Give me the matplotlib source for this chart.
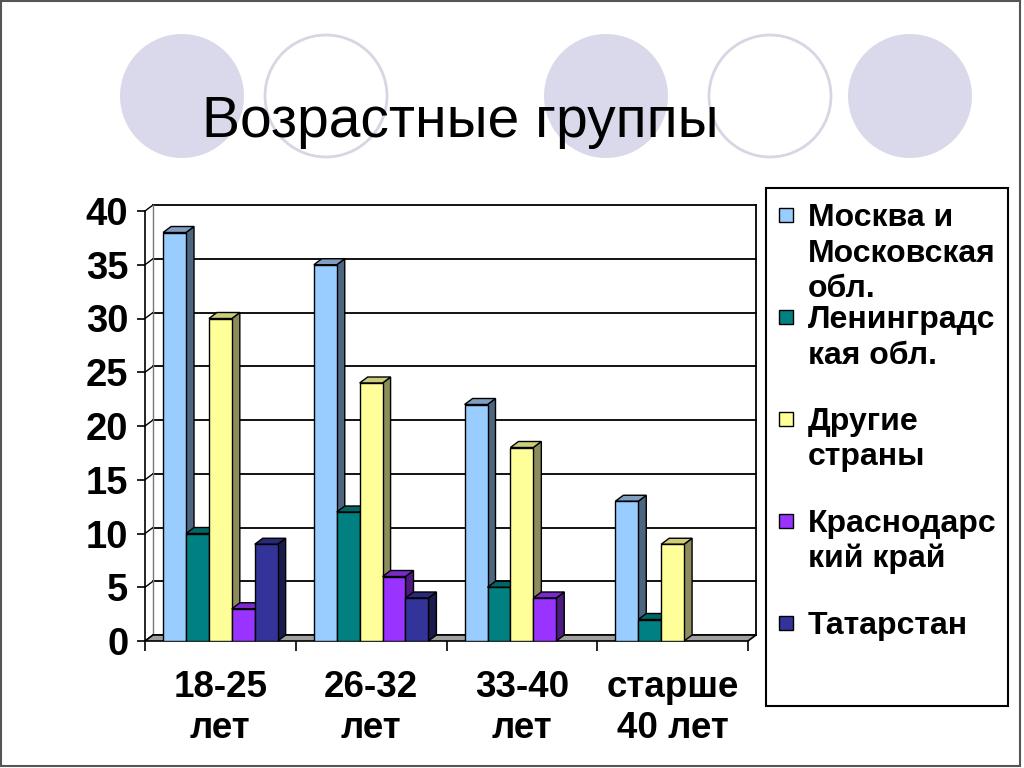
import matplotlib
matplotlib.use("Agg")
import matplotlib.pyplot as plt
from matplotlib.patches import Ellipse, Rectangle

plt.rcParams['font.family'] = ['Liberation Sans', 'DejaVu Sans']

# %% data
title = "Возрастные группы"
categories = ["18-25\nлет", "26-32\nлет", "33-40\nлет", "старше\n40 лет"]
series = ["Москва и\nМосковская\nобл.", "Ленинградс\nкая обл.", "Другие\nстраны",
          "Краснодарс\nкий край", "Татарстан"]
moscow = [38, 35, 22, 13]
leningrad = [10, 12, 5, 2]
other = [30, 24, 18, 9]
krasnodar = [3, 6, 4, 0]
tatarstan = [9, 4, 0, 0]
values = [moscow, leningrad, other, krasnodar, tatarstan]
yticks = list(range(0, 41, 5))

# front / top / side colours of the pseudo-3d bars
front_c = ['#99CCFF', '#008080', '#FFFF99', '#9933FF', '#333399']
top_c = ['#7F9EC0', '#006666', '#CCCC7A', '#7A29CC', '#29297A']
side_c = ['#4D6680', '#004D4D', '#8C8C5C', '#4D1A80', '#1A1A4D']

W, H = 1024, 768
fig = plt.figure(figsize=(10.24, 7.68), dpi=100)
fig.patch.set_facecolor('white')

def fx(px):
    return px / W

def fy(py):
    return 1 - py / H

# decorative circles behind the title
for cx, filled in [(182, True), (326, False), (606, True), (770, False), (910, True)]:
    if filled:
        e = Ellipse((fx(cx), fy(96)), 124 / W, 124 / H, transform=fig.transFigure,
                    facecolor='#D9D9EB', edgecolor='none', zorder=0)
    else:
        e = Ellipse((fx(cx), fy(96)), 122 / W, 122 / H, transform=fig.transFigure,
                    facecolor='white', edgecolor='#D6D6E4', lw=2, zorder=0)
    fig.add_artist(e)

fig.text(fx(460), fy(137), title, ha='center', va='baseline', fontsize=41, zorder=2)

# slide border
fig.add_artist(Rectangle((fx(1), fy(766)), fx(1019), 765 / H, transform=fig.transFigure,
                         facecolor='none', edgecolor='#555555', lw=1.5))

# %% chart (front plane in data coords)
ax = fig.add_axes([fx(145), fy(641), fx(748 - 145), (641 - 211) / H])
ax.set_xlim(-0.5, 3.5)
ax.set_ylim(0, 40)
ax.patch.set_visible(False)
for s in ['top', 'right', 'bottom']:
    ax.spines[s].set_visible(False)
ax.spines['left'].set_linewidth(1.2)

dx = 8 / 150.75
dy = 6 / 10.75
w = 0.152
x0, x1 = -0.5, 3.5

# back wall + grid
for y in yticks:
    ax.plot([x0 + dx, x1 + dx], [y + dy, y + dy], color='black', lw=1.3, zorder=1, clip_on=False)
    ax.plot([x0, x0 + dx], [y, y + dy], color='black', lw=1, zorder=1, clip_on=False)
ax.plot([x0 + dx, x0 + dx], [dy, 40 + dy], color='#777777', lw=1, zorder=1, clip_on=False)
ax.plot([x1 + dx, x1 + dx], [dy, 40 + dy], color='black', lw=1.3, zorder=1, clip_on=False)

# floor
ax.fill([x0, x1, x1 + dx, x0 + dx], [0, 0, dy, dy], facecolor='#A0A0A0',
        edgecolor='black', lw=1.2, zorder=2, clip_on=False)

# bars
for k, vals in enumerate(values):
    for i, v in enumerate(vals):
        if v <= 0:
            continue
        xl = i + (k - 2.5) * w
        xr = xl + w
        z = 3 + i * 10 + k
        ax.fill([xr, xr + dx, xr + dx, xr], [0, dy, v + dy, v], facecolor=side_c[k],
                edgecolor='black', lw=1, zorder=z, clip_on=False)
        ax.fill([xl, xl + dx, xr + dx, xr], [v, v + dy, v + dy, v], facecolor=top_c[k],
                edgecolor='black', lw=1, zorder=z, clip_on=False)
        ax.bar(xl, v, width=w, align='edge', color=front_c[k], edgecolor='black',
               lw=1, zorder=z + 0.5)

ax.set_yticks(yticks)
ax.set_yticklabels([str(t) for t in yticks], fontsize=27.5, fontweight='bold')
ax.tick_params(axis='y', direction='out', length=6, width=1.2, pad=6)

ax.set_xticks(range(len(categories)))
ax.set_xticklabels(categories, fontsize=26.5, fontweight='bold', linespacing=1.2)
ax.set_xticks([x0 + j for j in range(5)], minor=True)
ax.tick_params(axis='x', which='major', length=0, pad=21)
ax.tick_params(axis='x', which='minor', direction='out', length=7, width=1.2)

# %% legend
fig.add_artist(Rectangle((fx(766), fy(706)), fx(1008 - 766), (706 - 188) / H,
                         transform=fig.transFigure, facecolor='white', edgecolor='black', lw=1.5))
first_base = [226, 328, 430, 532, 634]
for k, lab in enumerate(series):
    b = first_base[k]
    fig.add_artist(Rectangle((fx(779), fy(b - 4)), 14 / W, 14 / H, transform=fig.transFigure,
                             facecolor=front_c[k], edgecolor='black', lw=1))
    for j, line in enumerate(lab.split('\n')):
        fig.text(fx(808), fy(b + j * 35.5), line, ha='left', va='baseline',
                 fontsize=23, fontweight='bold')

fig.savefig('out.png', dpi=100)
